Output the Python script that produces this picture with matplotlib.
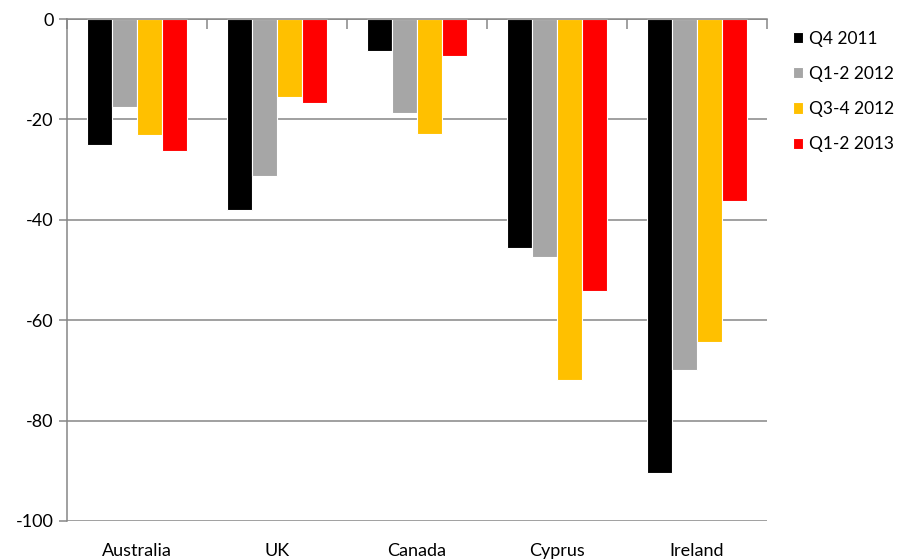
import numpy as np
import matplotlib.pyplot as plt

plt.rcParams['font.family'] = ['Lato', 'DejaVu Sans']
plt.rcParams['axes.unicode_minus'] = False

countries = ['Australia', 'UK', 'Canada', 'Cyprus', 'Ireland']
series = ['Q4 2011', 'Q1-2 2012', 'Q3-4 2012', 'Q1-2 2013']
q4_2011 = [-25.0, -38.1, -6.4, -45.6, -90.4]
q12_2012 = [-17.6, -31.2, -18.8, -47.4, -69.9]
q34_2012 = [-23.2, -15.5, -22.9, -72.0, -64.3]
q12_2013 = [-26.3, -16.7, -7.3, -54.1, -36.2]
colors = ['#000000', '#A6A6A6', '#FFC000', '#FF0000']

fig = plt.figure(figsize=(9.01, 5.59), dpi=100)
ax = fig.add_axes([0.0744, 0.068, 0.7768, 0.898])

x = np.arange(len(countries))
w = 0.18
bars = []
for i, (vals, c) in enumerate(zip([q4_2011, q12_2012, q34_2012, q12_2013], colors)):
    b = ax.bar(x + (i - 1.5) * w, vals, width=w, color=c, edgecolor='white', linewidth=0.8)
    bars.append(b)

ax.set_xlim(-0.5, len(countries) - 0.5)
ax.set_ylim(-100, 0)
ax.set_yticks(np.arange(-100, 1, 20))
ax.yaxis.grid(True, color='#868686', linewidth=1.1)
ax.set_axisbelow(True)

ax.set_xticks(x)
ax.set_xticklabels(countries, fontsize=13)
ax.tick_params(axis='x', length=0, pad=16)
ax.set_xticks(np.arange(-0.5, len(countries)), minor=True)
ax.tick_params(axis='x', which='minor', direction='in', top=True, bottom=False, length=7,
               color='#868686', width=1.1)
ax.tick_params(axis='y', length=6, color='#868686', width=1.1, labelsize=13)

for s in ['right', 'bottom']:
    ax.spines[s].set_visible(False)
for s in ['left', 'top']:
    ax.spines[s].set_color('#868686')
    ax.spines[s].set_linewidth(1.1)

fig.legend([b[0] for b in bars], series, loc='upper left', bbox_to_anchor=(0.874, 0.954),
           frameon=False, fontsize=12.5, handlelength=0.6, handleheight=0.6,
           handletextpad=0.35, labelspacing=1.1, borderaxespad=0, borderpad=0.3)

plt.savefig('out.png', dpi=100)
